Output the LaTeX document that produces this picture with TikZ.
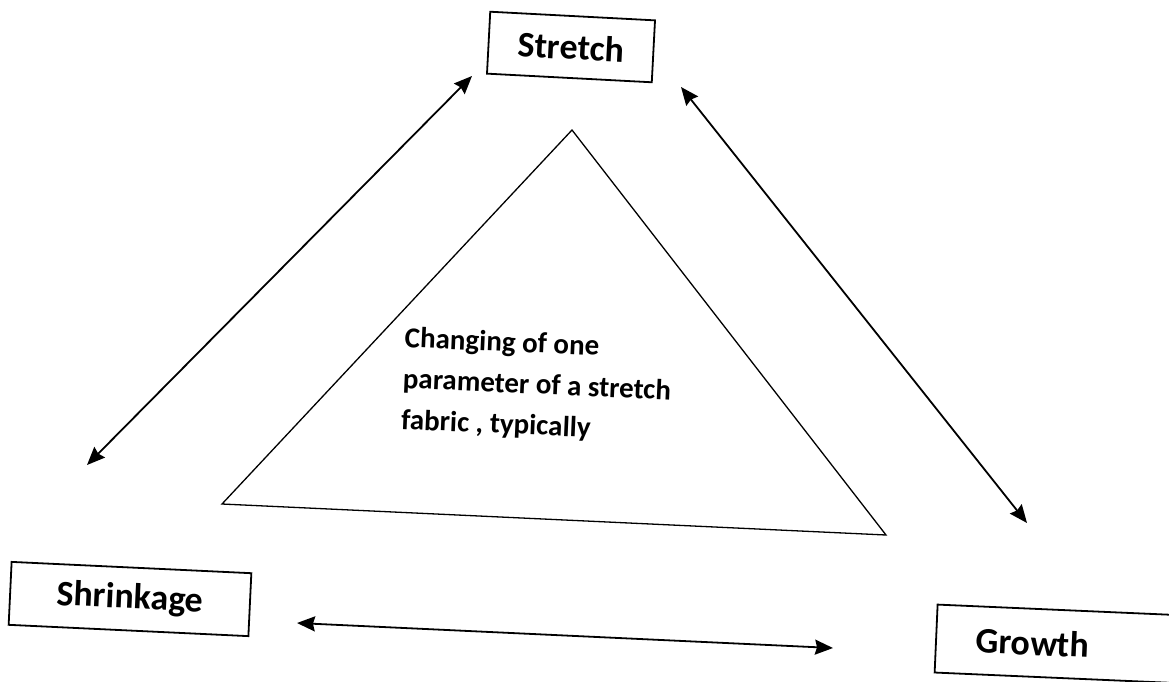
\documentclass[tikz,border=0pt]{standalone}
\usepackage{fontspec}
\setmainfont{Carlito}
\usetikzlibrary{arrows.meta}

\begin{document}
\begin{tikzpicture}[
    x=1pt, y=-1pt,
    labelbox/.style={shape=rectangle, draw=black, line width=1.8pt, font=\bfseries\fontsize{36}{43}\selectfont},
    linkarrow/.style={line width=1.8pt, {Stealth[length=18pt,width=15pt,inset=2pt]}-{Stealth[length=18pt,width=15pt,inset=2pt]}},
]
\useasboundingbox (0, 0) rectangle (1169, 681);

\node[labelbox, minimum width=165pt, minimum height=62pt, rotate=-3] (stretch) at (571, 47) {Stretch};
\node[labelbox, minimum width=240pt, minimum height=63pt, rotate=-2.7] (shrink) at (130, 599) {Shrinkage};
\node[labelbox, minimum height=68pt, text width=170pt, inner xsep=40pt, align=left, rotate=-2.5] (growth) at (1061, 644) {Growth};

\coordinate (tri1) at (572, 130);
\coordinate (tri2) at (222, 504);
\coordinate (tri3) at (886, 535);
\draw[line width=1.3pt, line join=miter] (tri1) -- (tri2) -- (tri3) -- cycle;

\node[rotate=-2.5, inner sep=0pt, align=left, font=\bfseries\fontsize{29}{41}\selectfont] (note) at (537, 386)
    {Changing of one\\parameter of a stretch\\fabric , typically};

\coordinate (s1) at (472, 76);
\coordinate (k1) at (87, 465);
\coordinate (s2) at (681, 87);
\coordinate (g1) at (1027, 523);
\coordinate (k2) at (297, 623);
\coordinate (g2) at (833, 648);

\path[linkarrow]
    (s1) edge (k1)
    (s2) edge (g1)
    (k2) edge (g2)
;
\end{tikzpicture}
\end{document}
